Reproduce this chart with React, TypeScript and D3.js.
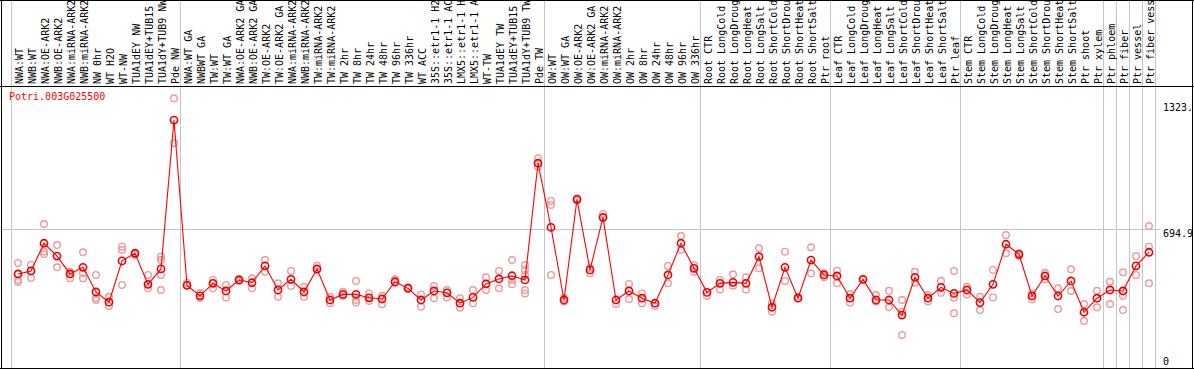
import React from "react";
import * as d3 from "d3";

const W = 1194;
const H = 370;

const geneLabel = "Potri.003G025500";

const categories = [
  "NWA:WT", "NWB:WT", "NWA:OE-ARK2", "NWB:OE-ARK2", "NWA:miRNA-ARK2", "NWB:miRNA-ARK2",
  "NW 0hr", "WT H2O", "WT-NW", "TUA1dEY NW", "TUA1dEY+TUB15 NW", "TUA1dY+TUB9 NW", "Pde NW",
  "NWA:WT GA", "NWBWT GA", "TW:WT", "TW:WT GA", "NWA:OE-ARK2 GA", "NWB:OE-ARK2 GA",
  "TW:OE-ARK2", "TW:OE-ARK2 GA", "NWA:miRNA-ARK2 GA", "NWB:miRNA-ARK2 GA", "TW:miRNA-ARK2",
  "TW:miRNA-ARK2 GA", "TW 2hr", "TW 8hr", "TW 24hr", "TW 48hr", "TW 96hr", "TW 336hr", "WT ACC",
  "35S::etr1-1 H2O", "35S::etr1-1 ACC", "LMX5::etr1-1 H2O", "LMX5::etr1-1 ACC", "WT-TW",
  "TUA1dEY TW", "TUA1dEY+TUB15 TW", "TUA1dY+TUB9 TW", "Pde TW",
  "OW:WT", "OW:WT GA", "OW:OE-ARK2", "OW:OE-ARK2 GA", "OW:miRNA-ARK2", "OW:miRNA-ARK2 GA",
  "OW 2hr", "OW 8hr", "OW 24hr", "OW 48hr", "OW 96hr", "OW 336hr",
  "Root CTR", "Root LongCold", "Root LongDrought", "Root LongHeat", "Root LongSalt",
  "Root ShortCold", "Root ShortDrought", "Root ShortHeat", "Root ShortSalt", "Ptr root",
  "Leaf CTR", "Leaf LongCold", "Leaf LongDrought", "Leaf LongHeat", "Leaf LongSalt",
  "Leaf ShortCold", "Leaf ShortDrought", "Leaf ShortHeat", "Leaf ShortSalt", "Ptr leaf",
  "Stem CTR", "Stem LongCold", "Stem LongDrought", "Stem LongHeat", "Stem LongSalt",
  "Stem ShortCold", "Stem ShortDrought", "Stem ShortHeat", "Stem ShortSalt", "Ptr shoot",
  "Ptr xylem", "Ptr phloem", "Ptr fiber", "Ptr vessel", "Ptr fiber vessel",
];

const groupStarts = [
  "NWA:WT", "NWA:WT GA", "OW:WT", "Root CTR", "Leaf CTR", "Stem CTR",
  "Ptr phloem", "Ptr fiber", "Ptr vessel", "Ptr fiber vessel",
];

const means = [
  469, 484, 622, 558, 469, 502, 379, 328, 534, 572, 417, 494, 1236,
  412, 360, 422, 384, 439, 425, 509, 389, 442, 379, 494, 339, 367, 367, 350, 344, 430, 397,
  339, 384, 375, 323, 352, 419, 444, 460, 439, 1021,
  701, 339, 841, 489, 751, 339, 384, 348, 323, 464, 622, 497,
  377, 422, 427, 422, 555, 303, 502, 348, 538, 464,
  459, 348, 442, 339, 339, 264, 452, 348, 402, 372,
  389, 326, 417, 617, 567, 359, 459, 359, 434, 278, 348,
  389, 384, 509, 577,
];

const replicates = [
  [524, 439, 429, 469], [514, 449, 484], [718, 580, 568], [613, 502], [447, 480, 469],
  [577, 474, 447], [464, 349, 339], [355, 309], [605, 588, 414], [572, 565],
  [464, 397, 417], [555, 538, 464, 389], [1345, 1122],
  [412, 424], [349, 374], [439, 397], [414, 352], [444, 434], [447, 397], [538, 480],
  [422, 355], [484, 409], [405, 355], [510, 489], [355, 323], [380, 359], [434, 339, 326],
  [372, 334], [360, 318], [442, 424], [397, 404], [367, 306], [409, 348], [389, 352],
  [348, 301], [389, 323], [452, 389], [484, 397], [538, 439, 417], [514, 489, 464, 389, 372],
  [1046, 1004],
  [833, 813, 464], [331, 349], [845, 835], [472, 499], [768, 748], [319], [419, 344],
  [372, 323], [309], [509, 422], [658, 588], [514, 480],
  [359], [439, 392], [467, 410], [452, 392], [597, 497], [323, 281], [580, 434], [355],
  [602, 472], [472, 452],
  [485, 422], [369, 326], [442], [364, 331], [385, 303], [339, 281, 165], [480, 425],
  [364, 331], [435, 375], [484, 350, 273],
  [405, 367], [355, 289], [489, 352], [663, 572], [572, 558], [372, 343], [475, 442],
  [397, 294], [492, 384], [319, 234], [385, 303],
  [430, 319], [477, 360, 289], [558, 464], [708, 605, 422],
];

const yTicks = [0, 694.9, 1323];
const yTickLabels = ["0", "694.9", "1323."];

const FONT = "'DejaVu Sans Mono', 'Liberation Mono', monospace";

export default function App() {
  const x = d3.scaleBand<string>().domain(categories).range([11, 1155]).padding(0);
  const y = d3.scaleLinear().domain([0, 1406]).range([368, 86]);
  const cx = (c: string) => (x(c) as number) + x.bandwidth() / 2 + 0.5;

  const lineGen = d3
    .line<number>()
    .x((_, i) => cx(categories[i]))
    .y((d) => y(d));

  const vLines = [...groupStarts.map((g) => x(g) as number), x.range()[1]];

  return (
    <div style={{ position: "absolute", left: 0, top: 0 }}>
      <svg width={W} height={H} style={{ display: "block", background: "#fff" }}>
        <rect x={0} y={0} width={W} height={H} fill="#fff" />
        {/* gridlines */}
        {vLines.map((vx, i) => (
          <line key={"v" + i} x1={vx + 0.5} x2={vx + 0.5} y1={0} y2={368} stroke="#c4c4c4" strokeWidth={1} />
        ))}
        <line x1={1} x2={1160} y1={Math.round(y(694.9)) + 0.5} y2={Math.round(y(694.9)) + 0.5} stroke="#c4c4c4" strokeWidth={1} />

        {/* category labels */}
        <g fontFamily={FONT} fontSize={10} fill="#000">
          {categories.map((c) => (
            <text key={c} transform={`translate(${cx(c) + 4.5},84) rotate(-90)`} textAnchor="start">
              {c}
            </text>
          ))}
        </g>

        {/* frame */}
        <line x1={0} x2={W} y1={0.5} y2={0.5} stroke="#000" />
        <line x1={0} x2={W} y1={86.5} y2={86.5} stroke="#000" />
        <line x1={0} x2={W} y1={368.5} y2={368.5} stroke="#000" />
        <line x1={1.5} x2={1.5} y1={0} y2={369} stroke="#000" />
        <line x1={1192.5} x2={1192.5} y1={0} y2={369} stroke="#000" />

        {/* y tick labels */}
        <g fontFamily={FONT} fontSize={10} fill="#000">
          {yTicks.map((t, i) => (
            <text key={t} x={1163} y={i === 0 ? 365 : y(t) + 8}>
              {yTickLabels[i]}
            </text>
          ))}
        </g>

        {/* replicate points */}
        <g fill="none" stroke="#ec9a9a" strokeWidth={1.4}>
          {replicates.map((reps, i) =>
            reps.map((v, j) => <circle key={i + "-" + j} cx={cx(categories[i])} cy={y(v)} r={3.3} />)
          )}
        </g>

        {/* mean line */}
        <path d={lineGen(means) || ""} fill="none" stroke="#ff0000" strokeWidth={1.1} />
        <g fill="none" stroke="#ee0000" strokeWidth={1.6}>
          {means.map((v, i) => (
            <circle key={i} cx={cx(categories[i])} cy={y(v)} r={3.6} />
          ))}
        </g>

        <text x={9} y={100} fontFamily={FONT} fontSize={10} fill="#ff0000">
          {geneLabel}
        </text>
      </svg>
    </div>
  );
}
